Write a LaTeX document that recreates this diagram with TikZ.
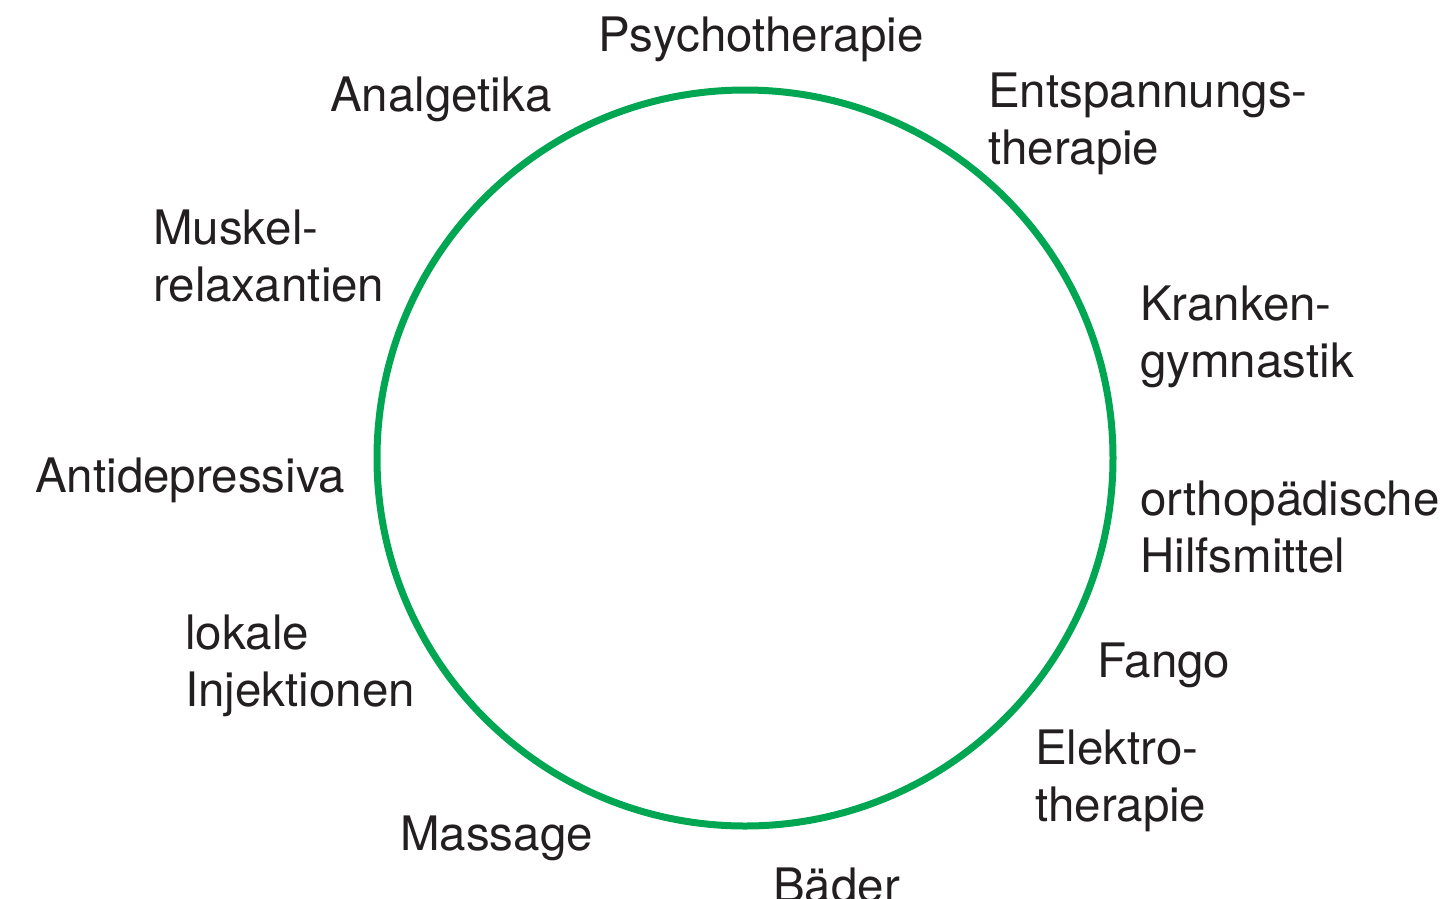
\documentclass[tikz,border=0pt]{standalone}
\usepackage{fontspec}
\setmainfont{TeX Gyre Heros}
\definecolor{ringgreen}{HTML}{00A651}
\definecolor{txtgray}{HTML}{231F20}

\begin{document}
\begin{tikzpicture}[x=1pt,y=-1pt]
    \tikzset{
        therapy/.style={
            anchor=base west,
            inner sep=0pt,
            align=left,
            text=txtgray,
            font=\fontsize{47.5}{57.5}\selectfont
        },
        ring/.style={
            draw=ringgreen,
            line width=7pt
        }
    }

    \useasboundingbox (0,0) rectangle (1444,898);

    \coordinate (c) at (745,458);
    \draw[ring] (c) circle (368);

    % two-line labels sit on the baseline of their last line
    \node[therapy] (psycho) at (598,51) {Psychotherapie};
    \node[therapy] (analg) at (330,111) {Analgetika};
    \node[therapy] (entsp) at (988,164.5) {Entspannungs-\\therapie};
    \node[therapy] (muskel) at (153,301.5) {Muskel-\\relaxantien};
    \node[therapy] (kg) at (1140,377.5) {Kranken-\\gymnastik};
    \node[therapy] (antidep) at (35,492) {Antidepressiva};
    \node[therapy] (ortho) at (1140,572.5) {orthopädische\\Hilfsmittel};
    \node[therapy] (inj) at (185,706.5) {lokale\\Injektionen};
    \node[therapy] (fango) at (1097,677) {Fango};
    \node[therapy] (elektro) at (1035,821.5) {Elektro-\\therapie};
    \node[therapy] (massage) at (400,850) {Massage};
    \node[therapy] (baeder) at (773,902) {Bäder};
\end{tikzpicture}
\end{document}
